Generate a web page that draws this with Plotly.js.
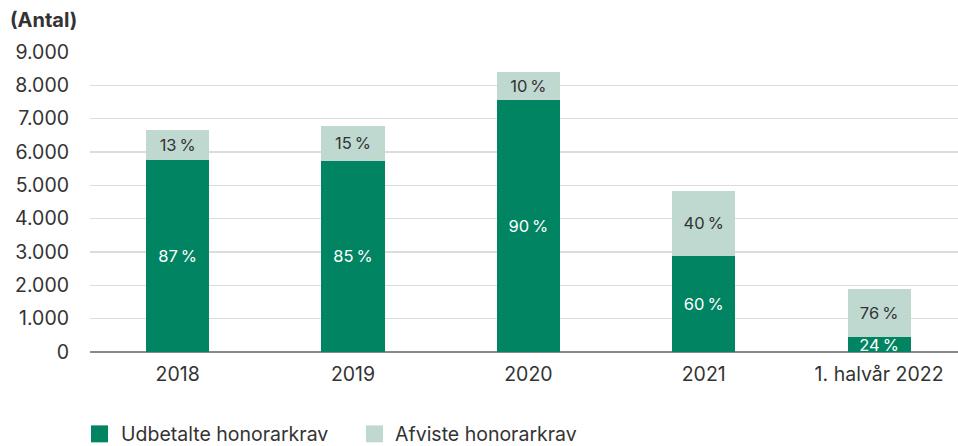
<!DOCTYPE html>
<html>
<head>
<meta charset="utf-8">
<script src="https://cdn.plot.ly/plotly-3.0.1.min.js"></script>
<style>
html,body{margin:0;padding:0;background:#fff;}
#chart{width:958px;height:446px;}
</style>
</head>
<body>
<div id="chart"></div>
<script>
// Data
const categories = ['2018', '2019', '2020', '2021', '1. halvår 2022'];
const udbetalte = [5750, 5740, 7550, 2890, 440];
const afviste = [900, 1040, 850, 1950, 1460];
const udbetaltePct = ['87\u2009%', '85\u2009%', '90\u2009%', '60\u2009%', '24\u2009%'];
const afvistePct = ['13\u2009%', '15\u2009%', '10\u2009%', '40\u2009%', '76\u2009%'];
const seriesNames = ['Udbetalte honorarkrav', 'Afviste honorarkrav'];
const yTicks = [0, 1000, 2000, 3000, 4000, 5000, 6000, 7000, 8000, 9000];

const darkGreen = '#008462';
const lightGreen = '#bfd9d0';
const textColor = '#333333';
const fontFamily = 'Inter, "Open Sans", sans-serif';
const fs = 19.5;

const traces = [
  {
    type: 'bar', name: seriesNames[0], x: categories, y: udbetalte,
    marker: {color: darkGreen, line: {width: 0}},
    text: udbetaltePct, textposition: 'inside', insidetextanchor: 'middle',
    constraintext: 'none', textangle: 0,
    insidetextfont: {color: '#ffffff', size: 16.5, family: fontFamily},
    hoverinfo: 'skip'
  },
  {
    type: 'bar', name: seriesNames[1], x: categories, y: afviste,
    marker: {color: lightGreen, line: {width: 0}},
    text: afvistePct, textposition: 'inside', insidetextanchor: 'middle',
    constraintext: 'none', textangle: 0,
    insidetextfont: {color: textColor, size: 16.5, family: fontFamily},
    hoverinfo: 'skip'
  }
];

const plotL = 90, plotR = 958, plotT = 52, plotB = 352.5;
const pw = plotR - plotL, ph = plotB - plotT;
const px = v => (v - plotL) / pw;
const py = v => (plotB - v) / ph;

const layout = {
  width: 958, height: 446,
  margin: {l: plotL, r: 0, t: plotT, b: 446 - plotB},
  paper_bgcolor: '#ffffff', plot_bgcolor: '#ffffff',
  separators: ',.',
  barmode: 'stack',
  bargap: 0.64,
  showlegend: false,
  font: {family: fontFamily, color: textColor, size: fs},
  title: {
    text: '<b>(Antal)</b>',
    xref: 'container', yref: 'container',
    x: 10 / 958, xanchor: 'left', y: 1 - 20 / 446, yanchor: 'middle',
    font: {family: fontFamily, size: 20, color: textColor}
  },
  xaxis: {
    type: 'category', range: [-0.5, 4.45],
    showgrid: false, zeroline: false, showline: false, ticks: '',
    tickfont: {size: fs, color: textColor, family: fontFamily},
    ticklabelstandoff: 8, fixedrange: true
  },
  yaxis: {
    range: [0, 9000], tickvals: yTicks, tickformat: ',d',
    showgrid: true, gridcolor: '#dcdcdc', gridwidth: 1.5,
    zeroline: true, zerolinecolor: '#8a8a8a', zerolinewidth: 2,
    showline: false, ticks: '',
    tickfont: {size: fs, color: textColor, family: fontFamily},
    ticklabelstandoff: 20, fixedrange: true
  },
  shapes: [
    {type: 'rect', xref: 'paper', yref: 'paper', x0: px(91), x1: px(108), y0: py(443), y1: py(426),
     fillcolor: darkGreen, line: {width: 0}},
    {type: 'rect', xref: 'paper', yref: 'paper', x0: px(366), x1: px(383), y0: py(443), y1: py(426),
     fillcolor: lightGreen, line: {width: 0}}
  ],
  annotations: [
    {text: seriesNames[0], xref: 'paper', yref: 'paper', x: px(119), y: py(435), xanchor: 'left', yanchor: 'middle',
     showarrow: false, font: {size: fs, color: textColor, family: fontFamily}},
    {text: seriesNames[1], xref: 'paper', yref: 'paper', x: px(393), y: py(435), xanchor: 'left', yanchor: 'middle',
     showarrow: false, font: {size: fs, color: textColor, family: fontFamily}}
  ]
};

Plotly.newPlot('chart', traces, layout, {displayModeBar: false, staticPlot: true});
</script>
</body>
</html>
